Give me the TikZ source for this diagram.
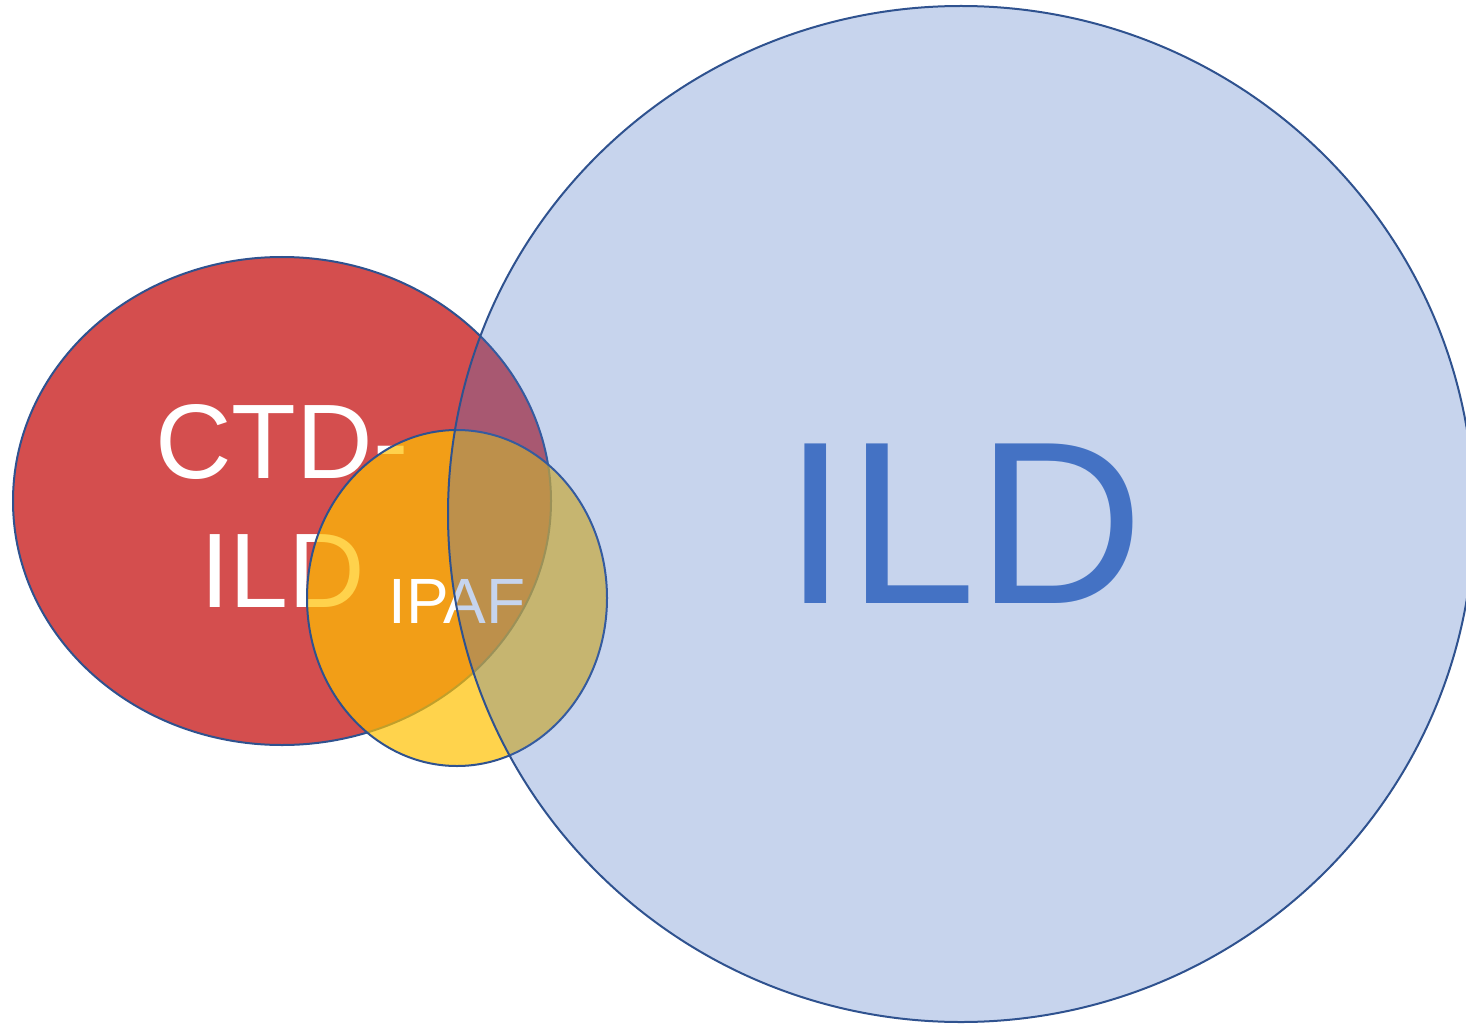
\documentclass[tikz,border=0pt]{standalone}
\usepackage{fontspec}
\setmainfont{Liberation Sans}
\definecolor{redfill}{RGB}{212,78,78}
\definecolor{yelfill}{RGB}{255,192,0}
\definecolor{bluefill}{RGB}{68,114,196}
\definecolor{edge}{RGB}{47,82,143}
\tikzset{
  setshape/.style={draw=edge, line width=2pt},
  bigtext/.style={font=\fontsize{106}{129}\selectfont, text=white, inner sep=0pt, anchor=base},
}
\begin{document}
\begin{tikzpicture}[x=1pt,y=-1pt]
\useasboundingbox (0,0) rectangle (1466,1024);
\clip (0,0) rectangle (1466,1024);
% CTD-ILD set
\path[setshape, fill=redfill] (282,501) ellipse [x radius=269, y radius=244];
\node[bigtext] (ctd1) at (282,478) {CTD-};
\node[bigtext] (ctd2) at (283,607) {ILD};
% IPAF set
\path[setshape, fill=yelfill, fill opacity=0.7] (457,598) ellipse [x radius=150, y radius=168];
\node[font=\fontsize{64}{76}\selectfont, text=white, inner sep=0pt, anchor=base] (ipaf) at (457,623) {IPAF};
% ILD set
\path[setshape, fill=bluefill, fill opacity=0.3] (961,514) ellipse [x radius=513, y radius=508];
\node[font=\fontsize{232}{280}\selectfont, text=bluefill, inner sep=0pt, anchor=base] (ild) at (964,603) {ILD};
\end{tikzpicture}
\end{document}
